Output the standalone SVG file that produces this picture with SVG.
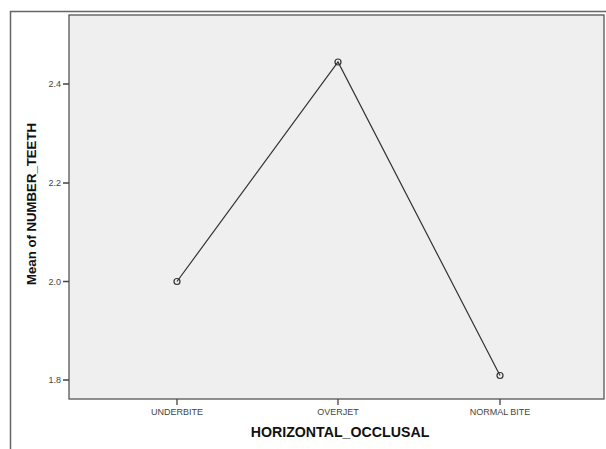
<svg xmlns="http://www.w3.org/2000/svg" width="606" height="449" viewBox="0 0 606 449">
<style>
.tl{font-family:"Liberation Sans",Arial,sans-serif;font-size:9px;fill:#444}
.at{font-family:"Liberation Sans",Arial,sans-serif;font-weight:bold;fill:#111}
.ax{stroke:#444;stroke-width:1.3;fill:none}
.pt{fill:none;stroke:#333;stroke-width:1.2}
</style>
<rect width="606" height="449" fill="#fff"/>
<path d="M10.5,449 V11.5 H606" fill="none" stroke="#666" stroke-width="1.5"/>
<g id="plot">
<rect x="69" y="15" width="535" height="384" fill="#efefef" stroke="#555" stroke-width="1.3"/>
</g>
<g id="yaxis">
<path class="ax" d="M63,84 H69 M63,183 H69 M63,281.5 H69 M63,380 H69"/>
<text class="tl" x="61" y="87" text-anchor="end">2.4</text>
<text class="tl" x="61" y="186" text-anchor="end">2.2</text>
<text class="tl" x="61" y="284.5" text-anchor="end">2.0</text>
<text class="tl" x="61" y="383" text-anchor="end">1.8</text>
<text class="at" font-size="13.2" transform="translate(36,204) rotate(-90)" text-anchor="middle">Mean of NUMBER_TEETH</text>
</g>
<g id="xaxis">
<path class="ax" d="M177,399 V405 M338,399 V405 M500,399 V405"/>
<text class="tl" x="177" y="415" text-anchor="middle">UNDERBITE</text>
<text class="tl" x="338" y="415" text-anchor="middle">OVERJET</text>
<text class="tl" x="500" y="415" text-anchor="middle">NORMAL BITE</text>
<text class="at" font-size="14.2" x="340" y="437" text-anchor="middle">HORIZONTAL_OCCLUSAL</text>
</g>
<g id="connectors">
<polyline points="177,281.5 338,62 500,375.5" fill="none" stroke="#333" stroke-width="1.2"/>
</g>
<g id="points">
<circle class="pt" cx="177" cy="281.5" r="3"/>
<circle class="pt" cx="338" cy="62" r="3"/>
<circle class="pt" cx="500" cy="375.5" r="3"/>
</g>
</svg>
